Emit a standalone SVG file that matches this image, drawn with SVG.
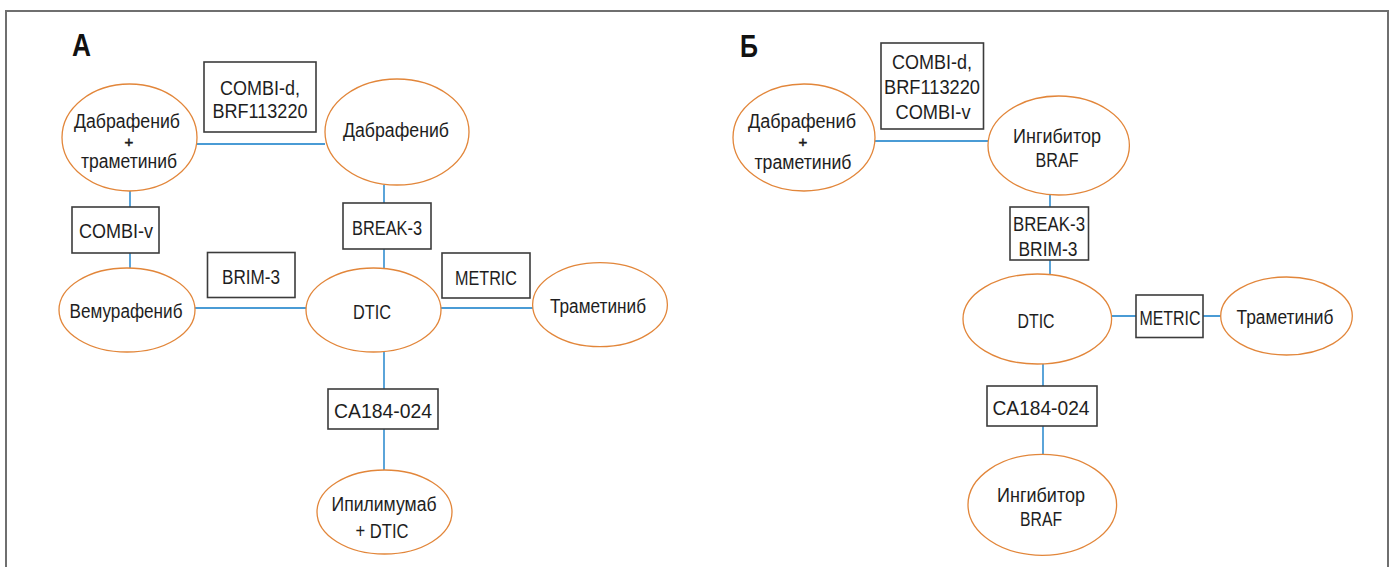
<svg xmlns="http://www.w3.org/2000/svg" width="1395" height="567" viewBox="0 0 1395 567">
<style>
.frame{fill:none;stroke:#6f6f6f;stroke-width:2}
.ell{fill:#fff;stroke:#e2863a;stroke-width:1.3}
.box{fill:#fff;stroke:#3c3c3c;stroke-width:1.6}
.con{fill:none;stroke:#4a9bd5;stroke-width:1.8}
text{font-family:"Liberation Sans",Arial,sans-serif;font-size:20px;fill:#1e1e1e;text-anchor:middle}
.plus{font-size:15px;stroke:#1e1e1e;stroke-width:0.6}
.big{font-size:31px;font-weight:bold;text-anchor:start;fill:#111}
</style>
<rect width="1395" height="567" fill="#fff"/>
<path class="frame" d="M6,567 V11 H1388 V567"/>
<text class="big" x="72" y="56" textLength="19" lengthAdjust="spacingAndGlyphs">А</text>
<text class="big" x="740" y="57" textLength="18" lengthAdjust="spacingAndGlyphs">Б</text>

<g id="connectors">
<line class="con" x1="197" y1="144" x2="325" y2="144"/>
<line class="con" x1="130" y1="191" x2="130" y2="268"/>
<line class="con" x1="384" y1="185" x2="384" y2="268"/>
<line class="con" x1="195" y1="308" x2="306" y2="308"/>
<line class="con" x1="441" y1="308" x2="533" y2="308"/>
<line class="con" x1="384" y1="352" x2="384" y2="471"/>
<line class="con" x1="875" y1="141" x2="988" y2="141"/>
<line class="con" x1="1050" y1="195" x2="1050" y2="275"/>
<line class="con" x1="1111" y1="316" x2="1221" y2="316"/>
<line class="con" x1="1043" y1="364" x2="1043" y2="455"/>
</g>

<g id="a-dab-tram">
<ellipse class="ell" cx="129.5" cy="137.5" rx="67.5" ry="53.5"/>
<text x="127" y="128" textLength="106" lengthAdjust="spacingAndGlyphs">Дабрафениб</text>
<text class="plus" x="129" y="146.5">+</text>
<text x="129" y="168" textLength="96" lengthAdjust="spacingAndGlyphs">траметиниб</text>
</g>
<g id="a-combi-d">
<rect class="box" x="204" y="62" width="112" height="70"/>
<text x="260" y="95" textLength="80" lengthAdjust="spacingAndGlyphs">COMBI-d,</text>
<text x="260" y="118" textLength="95" lengthAdjust="spacingAndGlyphs">BRF113220</text>
</g>
<g id="a-dab">
<ellipse class="ell" cx="397" cy="132" rx="72" ry="53"/>
<text x="396" y="137" textLength="106" lengthAdjust="spacingAndGlyphs">Дабрафениб</text>
</g>
<g id="a-combi-v">
<rect class="box" x="72" y="207" width="87" height="46"/>
<text x="116" y="238" textLength="74" lengthAdjust="spacingAndGlyphs">COMBI-v</text>
</g>
<g id="a-break3">
<rect class="box" x="343" y="203" width="88" height="46"/>
<text x="387" y="235" textLength="70" lengthAdjust="spacingAndGlyphs">BREAK-3</text>
</g>
<g id="a-brim3">
<rect class="box" x="207.5" y="252.5" width="87.5" height="45"/>
<text x="251" y="284" textLength="58" lengthAdjust="spacingAndGlyphs">BRIM-3</text>
</g>
<g id="a-metric">
<rect class="box" x="442" y="253" width="88" height="45"/>
<text x="486" y="285" textLength="62" lengthAdjust="spacingAndGlyphs">METRIC</text>
</g>
<g id="a-vem">
<ellipse class="ell" cx="127" cy="310" rx="68" ry="42"/>
<text x="126" y="318" textLength="113" lengthAdjust="spacingAndGlyphs">Вемурафениб</text>
</g>
<g id="a-dtic">
<ellipse class="ell" cx="373.5" cy="310" rx="67.5" ry="42"/>
<text x="372" y="319" textLength="38" lengthAdjust="spacingAndGlyphs">DTIC</text>
</g>
<g id="a-tram">
<ellipse class="ell" cx="600" cy="304.7" rx="67.4" ry="42"/>
<text x="598" y="313" textLength="96" lengthAdjust="spacingAndGlyphs">Траметиниб</text>
</g>
<g id="a-ca184">
<rect class="box" x="328" y="389" width="110" height="40"/>
<text x="383" y="418" textLength="98" lengthAdjust="spacingAndGlyphs">CA184-024</text>
</g>
<g id="a-ipi">
<ellipse class="ell" cx="384.5" cy="512" rx="67.5" ry="42"/>
<text x="384" y="511" textLength="105" lengthAdjust="spacingAndGlyphs">Ипилимумаб</text>
<text x="382" y="538" textLength="53" lengthAdjust="spacingAndGlyphs">+ DTIC</text>
</g>

<g id="b-dab-tram">
<ellipse class="ell" cx="804" cy="137.5" rx="71" ry="53.5"/>
<text x="802" y="128" textLength="108" lengthAdjust="spacingAndGlyphs">Дабрафениб</text>
<text class="plus" x="803" y="147">+</text>
<text x="803" y="169" textLength="97" lengthAdjust="spacingAndGlyphs">траметиниб</text>
</g>
<g id="b-combi">
<rect class="box" x="881" y="43" width="102.5" height="86"/>
<text x="932" y="69" textLength="80" lengthAdjust="spacingAndGlyphs">COMBI-d,</text>
<text x="932" y="94" textLength="96" lengthAdjust="spacingAndGlyphs">BRF113220</text>
<text x="933" y="119" textLength="75" lengthAdjust="spacingAndGlyphs">COMBI-v</text>
</g>
<g id="b-braf1">
<ellipse class="ell" cx="1058.7" cy="145.5" rx="70.7" ry="49.5"/>
<text x="1057" y="143" textLength="88" lengthAdjust="spacingAndGlyphs">Ингибитор</text>
<text x="1057" y="167" textLength="43" lengthAdjust="spacingAndGlyphs">BRAF</text>
</g>
<g id="b-break-brim">
<rect class="box" x="1010" y="207" width="78.5" height="53"/>
<text x="1049" y="231" textLength="72" lengthAdjust="spacingAndGlyphs">BREAK-3</text>
<text x="1048" y="256" textLength="59" lengthAdjust="spacingAndGlyphs">BRIM-3</text>
</g>
<g id="b-dtic">
<ellipse class="ell" cx="1037.3" cy="319" rx="74.3" ry="45"/>
<text x="1036" y="328" textLength="37" lengthAdjust="spacingAndGlyphs">DTIC</text>
</g>
<g id="b-metric">
<rect class="box" x="1136" y="295" width="67" height="42.5"/>
<text x="1170" y="325" textLength="61" lengthAdjust="spacingAndGlyphs">METRIC</text>
</g>
<g id="b-tram">
<ellipse class="ell" cx="1286.5" cy="316" rx="65.8" ry="39"/>
<text x="1285" y="324" textLength="97" lengthAdjust="spacingAndGlyphs">Траметиниб</text>
</g>
<g id="b-ca184">
<rect class="box" x="987" y="386" width="110" height="40"/>
<text x="1041" y="415" textLength="97" lengthAdjust="spacingAndGlyphs">CA184-024</text>
</g>
<g id="b-braf2">
<ellipse class="ell" cx="1042.3" cy="504.8" rx="74.3" ry="50.5"/>
<text x="1041" y="502" textLength="88" lengthAdjust="spacingAndGlyphs">Ингибитор</text>
<text x="1041" y="526" textLength="42" lengthAdjust="spacingAndGlyphs">BRAF</text>
</g>
</svg>
